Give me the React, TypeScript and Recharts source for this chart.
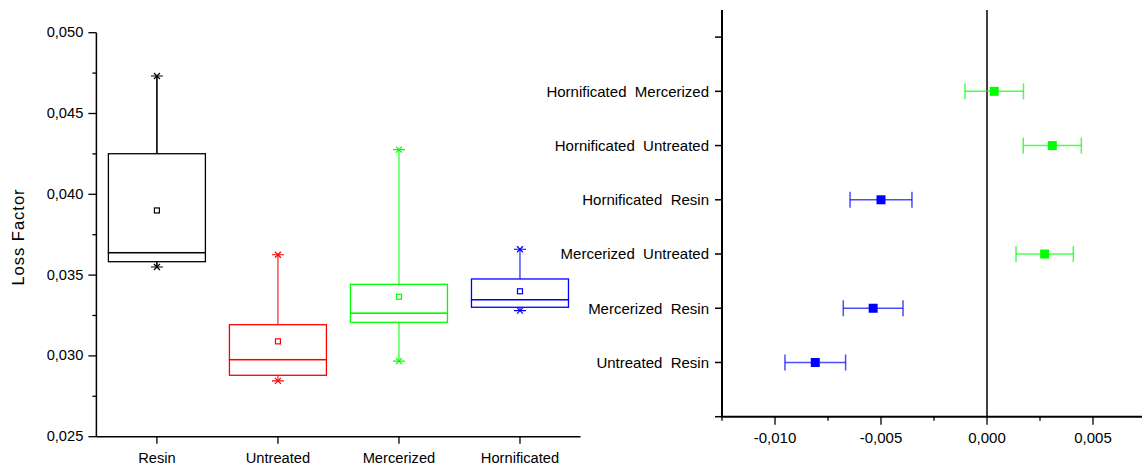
import React from "react";
import { ComposedChart, Bar, Line, XAxis, YAxis, ScatterChart, Scatter, ErrorBar, ReferenceLine } from "recharts";

const FONT = '"Liberation Sans", Arial, sans-serif';

// left panel: loss factor box plot
const treatments = ["Resin", "Untreated", "Mercerized", "Hornificated"];
const boxColors = ["#000000", "#ff0000", "#00ff00", "#0000ff"];
const minValues = [0.0355, 0.02845, 0.02968, 0.0328];
const q1Values = [0.03583, 0.0288, 0.03208, 0.03301];
const medianValues = [0.03639, 0.02977, 0.03264, 0.03348];
const q3Values = [0.04251, 0.03193, 0.03443, 0.03476];
const maxValues = [0.04732, 0.03626, 0.04276, 0.0366];
const meanValues = [0.039, 0.0309, 0.03366, 0.034];
const lossTicks = [0.025, 0.0275, 0.03, 0.0325, 0.035, 0.0375, 0.04, 0.0425, 0.045, 0.0475, 0.05];

// right panel: pairwise mean differences
const pairLabels = [
  "Untreated  Resin",
  "Mercerized  Resin",
  "Mercerized  Untreated",
  "Hornificated  Resin",
  "Hornificated  Untreated",
  "Hornificated  Mercerized",
];
const pairDiffs = [-0.0081, -0.00537, 0.00272, -0.005, 0.00308, 0.00034];
const pairErrors = [0.00143, 0.00141, 0.00135, 0.00146, 0.00137, 0.00138];
const pairGroups = ["blue", "blue", "green", "blue", "green", "green"];
const diffTicks = [-0.0125, -0.01, -0.0075, -0.005, -0.0025, 0, 0.0025, 0.005, 0.0075];
const pairTicks = [0, 1, 2, 3, 4, 5, 6, 7];

const boxData = treatments.map((name, i) => ({
  name,
  base: minValues[i],
  lowWhisker: q1Values[i] - minValues[i],
  lowBox: medianValues[i] - q1Values[i],
  highBox: q3Values[i] - medianValues[i],
  highWhisker: maxValues[i] - q3Values[i],
  mean: meanValues[i],
}));

const pairData = pairLabels.map((label, i) => ({ label, pos: i + 1, diff: pairDiffs[i], err: pairErrors[i], group: pairGroups[i] }));
const greenPairs = pairData.filter((d) => d.group === "green");
const bluePairs = pairData.filter((d) => d.group === "blue");

const fmt = (v: number) => v.toFixed(3).replace(".", ",");
const isMajor = (v: number) => Math.round(v * 10000) % 50 === 0;
const colorOf = (p: any) => boxColors[treatments.indexOf(p?.name)] ?? "#000";

function whisker(props: any, end: "top" | "bottom") {
  const { x, y, width, height, payload } = props;
  const color = colorOf(payload);
  const cx = x + width / 2;
  const ey = end === "top" ? y : y + height;
  const op = payload?.name === "Resin" ? 1 : 0.65;
  return (
    <g>
      <line x1={cx} x2={cx} y1={y} y2={y + height} stroke={color} strokeOpacity={op} strokeWidth={1.6} />
      <line x1={cx - 6} x2={cx + 6} y1={ey} y2={ey} stroke={color} strokeWidth={1.2} />
      <line x1={cx - 3} x2={cx + 3} y1={ey - 3} y2={ey + 3} stroke={color} strokeWidth={1.2} />
      <line x1={cx - 3} x2={cx + 3} y1={ey + 3} y2={ey - 3} stroke={color} strokeWidth={1.2} />
    </g>
  );
}

function boxPart(props: any) {
  const { x, y, width, height, payload } = props;
  return <rect x={x} y={y} width={width} height={height} fill="none" stroke={colorOf(payload)} strokeWidth={1.3} />;
}

function LeftYTick({ x, y, payload }: any) {
  const v = payload.value;
  const ax = x + 5 + 8;
  const major = isMajor(v);
  return (
    <g>
      <line x1={ax - (major ? 8 : 4)} x2={ax} y1={y} y2={y} stroke="#000" strokeWidth={1.3} />
      {major && (
        <text x={x} y={y} dy={4.5} textAnchor="end" fontSize={14.7} fontFamily={FONT} fill="#000">
          {fmt(v)}
        </text>
      )}
    </g>
  );
}

function LeftXTick({ x, y, payload }: any) {
  const ay = y - 4 - 7;
  return (
    <g>
      <line x1={x} x2={x} y1={ay} y2={ay + 7} stroke="#000" strokeWidth={1.3} />
      <text x={x} y={y} dy={15} textAnchor="middle" fontSize={14.7} fontFamily={FONT} fill="#000">
        {payload.value}
      </text>
    </g>
  );
}

function RightXTick({ x, y, payload }: any) {
  const v = payload.value;
  const ay = y - 4 - 8;
  const major = isMajor(v);
  return (
    <g>
      <line x1={x} x2={x} y1={ay} y2={ay + (major ? 8 : 4)} stroke="#000" strokeWidth={1.3} />
      {major && (
        <text x={x} y={y} dy={14.6} textAnchor="middle" fontSize={15} fontFamily={FONT} fill="#000">
          {fmt(v)}
        </text>
      )}
    </g>
  );
}

function RightYTick({ x, y, payload }: any) {
  const ax = x + 6 + 7;
  const label = pairLabels[payload.value - 1];
  return (
    <g>
      <line x1={ax - 7} x2={ax} y1={y} y2={y} stroke="#000" strokeWidth={1.5} />
      {label && (
        <text x={x} y={y} dy={5.3} textAnchor="end" fontSize={15} fontFamily={FONT} fill="#000" style={{ whiteSpace: "pre" }}>
          {label}
        </text>
      )}
    </g>
  );
}

function MeanDot(p: any) {
  const { cx, cy, index, payload } = p;
  if (cx == null || cy == null) return <g key={"m" + index} />;
  return <rect key={"m" + index} x={cx - 2.5} y={cy - 2.5} width={5} height={5} fill="#fff" stroke={colorOf(payload)} strokeWidth={1.2} />;
}

const square = (p: any) => <rect x={p.cx - 4.5} y={p.cy - 4.5} width={9} height={9} fill={p.fill} />;

export default function App() {
  return (
    <div style={{ position: "absolute", left: 0, top: 0, width: 1142, height: 466, overflow: "hidden", background: "#fff" }}>
      <div style={{ position: "absolute", left: 538, top: 0, width: 620, height: 466, overflow: "hidden" }}>
        <ScatterChart width={620} height={466} margin={{ top: 10, right: 12, bottom: 0, left: 0 }}>
          <XAxis
            type="number"
            dataKey="diff"
            domain={[-0.0125, 0.0075]}
            ticks={diffTicks}
            interval={0}
            allowDataOverflow
            height={49.3}
            tickSize={8}
            tickMargin={4}
            tickLine={false}
            tick={<RightXTick />}
            axisLine={{ stroke: "#000", strokeWidth: 2 }}
          />
          <YAxis
            type="number"
            dataKey="pos"
            domain={[0, 7.5]}
            ticks={pairTicks}
            interval={0}
            allowDataOverflow
            width={184}
            tickSize={7}
            tickMargin={6}
            tickLine={false}
            tick={<RightYTick />}
            axisLine={{ stroke: "#000", strokeWidth: 2 }}
          />
          <ReferenceLine x={0} stroke="#111" strokeWidth={1.6} />
          <Scatter data={bluePairs} fill="#0000ff" shape={square} isAnimationActive={false}>
            <ErrorBar dataKey="err" direction="x" width={8} stroke="#0000ff" strokeOpacity={0.7} strokeWidth={1.5} isAnimationActive={false} />
          </Scatter>
          <Scatter data={greenPairs} fill="#00ff00" shape={square} isAnimationActive={false}>
            <ErrorBar dataKey="err" direction="x" width={8} stroke="#00ff00" strokeOpacity={0.7} strokeWidth={1.5} isAnimationActive={false} />
          </Scatter>
        </ScatterChart>
      </div>
      <div style={{ position: "absolute", left: 0, top: 0, width: 600, height: 466 }}>
        <ComposedChart width={600} height={466} data={boxData} margin={{ top: 32.7, right: 19.5, bottom: 0, left: 0 }}>
          <XAxis
            dataKey="name"
            height={29.3}
            tickSize={7}
            tickMargin={4}
            tickLine={false}
            tick={<LeftXTick />}
            interval={0}
            axisLine={{ stroke: "#000", strokeWidth: 1.5 }}
          />
          <YAxis
            type="number"
            domain={[0.025, 0.05]}
            ticks={lossTicks}
            interval={0}
            allowDataOverflow
            width={96.4}
            tickSize={8}
            tickMargin={5}
            tickLine={false}
            tick={<LeftYTick />}
            axisLine={{ stroke: "#000", strokeWidth: 1.5 }}
            label={{
              content: ({ viewBox }: any) => {
                const lx = (viewBox?.x ?? 0) + 24;
                const ly = (viewBox?.y ?? 0) + (viewBox?.height ?? 0) / 2 + 2.3;
                return (
                  <text x={lx} y={ly} transform={`rotate(-90 ${lx} ${ly})`} textAnchor="middle" fontSize={16.5} letterSpacing={1} fontFamily={FONT} fill="#000">
                    Loss Factor
                  </text>
                );
              },
            }}
          />
          <Bar dataKey="base" stackId="box" barSize={97} shape={() => <g />} isAnimationActive={false} />
          <Bar dataKey="lowWhisker" stackId="box" barSize={97} shape={(p: any) => whisker(p, "bottom")} isAnimationActive={false} />
          <Bar dataKey="lowBox" stackId="box" barSize={97} shape={boxPart} isAnimationActive={false} />
          <Bar dataKey="highBox" stackId="box" barSize={97} shape={boxPart} isAnimationActive={false} />
          <Bar dataKey="highWhisker" stackId="box" barSize={97} shape={(p: any) => whisker(p, "top")} isAnimationActive={false} />
          <Line dataKey="mean" stroke="none" dot={MeanDot} activeDot={false} isAnimationActive={false} />
        </ComposedChart>
      </div>
    </div>
  );
}
